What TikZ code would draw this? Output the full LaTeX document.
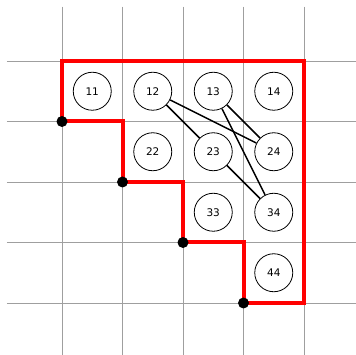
\documentclass[tikz,border=0pt]{standalone}
\usepackage{fontspec}
\setmainfont{DejaVu Sans}
\begin{document}
\begin{tikzpicture}[x=1pt,y=1pt,
  gridline/.style={draw=gray!75, line width=0.7pt},
  cell/.style={circle, draw=black, line width=0.8pt, minimum size=38pt, inner sep=0pt, font=\fontsize{10.5}{12}\selectfont, fill=white},
  redline/.style={draw=red, line width=4pt, line join=miter},
  link/.style={draw=black, line width=1.5pt},
  dotstyle/.style={fill=black}]
\useasboundingbox (0,0) rectangle (356,-355);
\begin{scope}[shift={(62,-61)}, x=60.5pt, y=-60.5pt]
  \clip (-1.1,-1.1) rectangle (4.97,4.9);
  \foreach \i in {0,...,4} {
    \draw[gridline] (\i,-0.9) -- (\i,4.95);
    \draw[gridline] (-0.91,\i) -- (4.95,\i);
  }
  \draw[redline] (0,1) -- (0,0) -- (4,0) -- (4,4) -- (3,4) -- (3,3) -- (2,3) -- (2,2) -- (1,2) -- (1,1) -- cycle;
  \coordinate (d1) at (0,1);
  \coordinate (d2) at (1,2);
  \coordinate (d3) at (2,3);
  \coordinate (d4) at (3,4);
  \foreach \d in {d1,d2,d3,d4} \fill[dotstyle] (\d) circle (5.5pt);
  \node[cell] (n11) at (0.5,0.5) {11};
  \node[cell] (n12) at (1.5,0.5) {12};
  \node[cell] (n13) at (2.5,0.5) {13};
  \node[cell] (n14) at (3.5,0.5) {14};
  \node[cell] (n22) at (1.5,1.5) {22};
  \node[cell] (n23) at (2.5,1.5) {23};
  \node[cell] (n24) at (3.5,1.5) {24};
  \node[cell] (n33) at (2.5,2.5) {33};
  \node[cell] (n34) at (3.5,2.5) {34};
  \node[cell] (n44) at (3.5,3.5) {44};
  \draw[link] (n12) -- (n23);
  \draw[link] (n12) -- (n24);
  \draw[link] (n13) -- (n24);
  \draw[link] (n13) -- (n34);
  \draw[link] (n23) -- (n34);
\end{scope}
\end{tikzpicture}
\end{document}
